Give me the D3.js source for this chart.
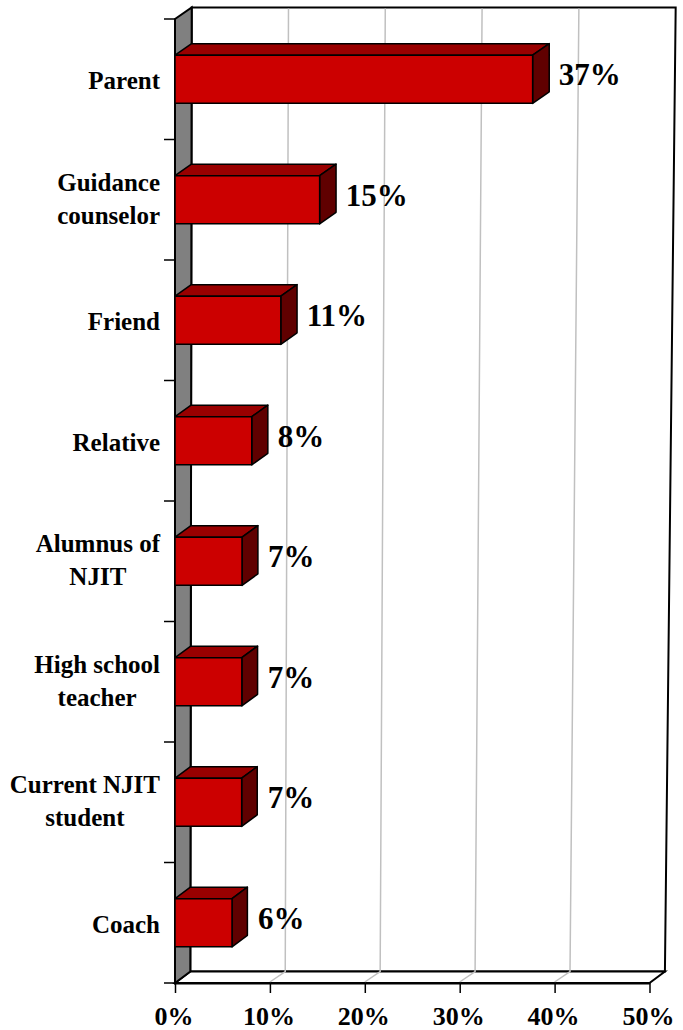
<!DOCTYPE html>
<html>
<head>
<meta charset="utf-8">
<script src="https://cdn.jsdelivr.net/npm/d3@7"></script>
<style>
  body { margin: 0; background: #fff; }
  svg { display: block; font-family: "Liberation Serif", "Times New Roman", serif; font-weight: bold; }
</style>
</head>
<body>
<div id="chart"></div>
<script>
// data ------------------------------------------------------------
const categories = ['Parent', 'Guidance counselor', 'Friend', 'Relative',
  'Alumnus of NJIT', 'High school teacher', 'Current NJIT student', 'Coach'];
const labelLines = [['Parent'], ['Guidance', 'counselor'], ['Friend'], ['Relative'],
  ['Alumnus of', 'NJIT'], ['High school', 'teacher'], ['Current NJIT', 'student'], ['Coach']];
const values = [37, 15, 11, 8, 7, 7, 7, 6];
const xTicks = [0, 10, 20, 30, 40, 50];

// layout ----------------------------------------------------------
const width = 683, height = 1030;
const plotLeft = 175, plotTop = 19, plotBottom = 983;
const depthY = -11.5;

const svg = d3.select('#chart').append('svg')
  .attr('width', width).attr('height', height);

const x = d3.scaleLinear().domain([0, 50]).range([0, 474.5]);
const y = d3.scaleBand().domain(categories).range([plotTop, plotBottom])
  .paddingInner(0.6).paddingOuter(0.3);
// slight perspective: things higher up are a bit wider
const persp = d3.scaleLinear().domain([plotBottom, 7]).range([1, 1.02]);
const depthX = d3.scaleLinear().domain([plotBottom, 7]).range([15.3, 16.7]);

const frontX = (v, yy) => plotLeft + x(v) * persp(yy);
const backX = (v, yy) => plotLeft + depthX(yy) + x(v) * persp(yy);
const backTop = plotTop + depthY, backBottom = plotBottom + depthY;

const line = d3.line();

// back wall
svg.append('path')
  .attr('d', line([[backX(0, backTop), backTop], [backX(50, backTop), backTop],
    [backX(50, backBottom), backBottom], [backX(0, backBottom), backBottom]]) + 'Z')
  .attr('fill', '#fff').attr('stroke', '#000').attr('stroke-width', 2);

// floor
svg.append('path')
  .attr('d', line([[frontX(0, plotBottom), plotBottom], [frontX(50, plotBottom), plotBottom],
    [backX(50, backBottom), backBottom], [backX(0, backBottom), backBottom]]) + 'Z')
  .attr('fill', '#fff').attr('stroke', '#000').attr('stroke-width', 2);

// gridlines on wall and floor
const grid = svg.append('g').attr('class', 'gridlines')
  .attr('stroke', '#c0c0c0').attr('stroke-width', 1.5).attr('fill', 'none');
grid.selectAll('path')
  .data(xTicks.filter(d => d > 0 && d < 50))
  .join('path')
  .attr('d', d => line([[backX(d, backTop + 1), backTop + 1], [backX(d, backBottom), backBottom],
    [frontX(d, plotBottom), plotBottom - 1]]));

// left wall
svg.append('path')
  .attr('d', line([[plotLeft, plotTop], [backX(0, backTop), backTop],
    [backX(0, backBottom), backBottom], [plotLeft, plotBottom]]) + 'Z')
  .attr('fill', '#808080').attr('stroke', '#000').attr('stroke-width', 2);

// bars
const bars = svg.append('g').attr('class', 'bars')
  .attr('stroke', '#000').attr('stroke-width', 1.5).attr('stroke-linejoin', 'round');

categories.forEach((c, i) => {
  const yt = y(c), yb = yt + y.bandwidth(), ym = yt + y.bandwidth() / 2;
  const xr = plotLeft + x(values[i]) * persp(ym);
  const dx = depthX(ym), dy = depthY;
  const g = bars.append('g');
  g.append('path') // top face
    .attr('d', line([[plotLeft, yt], [xr, yt], [xr + dx, yt + dy], [plotLeft + dx, yt + dy]]) + 'Z')
    .attr('fill', '#990000');
  g.append('path') // side face
    .attr('d', line([[xr, yt], [xr + dx, yt + dy], [xr + dx, yb + dy], [xr, yb]]) + 'Z')
    .attr('fill', '#600000');
  g.append('rect') // front face
    .attr('x', plotLeft).attr('y', yt).attr('width', xr - plotLeft).attr('height', yb - yt)
    .attr('fill', '#cc0000');
  svg.append('text')
    .attr('x', xr + 26).attr('y', ym + 6)
    .attr('font-size', 31)
    .text(values[i] + '%');
});

// category axis: ticks sit on band boundaries
const boundaries = categories.map(c => y(c) - y.step() * y.paddingInner() / 2);
boundaries[0] = plotTop;
boundaries.push(plotBottom);
svg.append('g').attr('stroke', '#000').attr('stroke-width', 1.5)
  .selectAll('line').data(boundaries).join('line')
  .attr('x1', plotLeft - 11).attr('x2', plotLeft).attr('y1', d => d).attr('y2', d => d);

const catLabels = svg.append('g').attr('font-size', 25).attr('text-anchor', 'middle');
categories.forEach((c, i) => {
  const lines = labelLines[i];
  const lh = 32.6;
  const ym = y(c) + y.bandwidth() / 2;
  const base = ym + 9.75 - (lines.length - 1) * 2.25;
  const t = catLabels.append('text');
  lines.forEach((s, j) => {
    t.append('tspan').attr('y', base - (lines.length - 1) * lh / 2 + j * lh).text(s);
  });
  let maxW = 0;
  t.selectAll('tspan').each(function () { maxW = Math.max(maxW, this.getComputedTextLength()); });
  t.selectAll('tspan').attr('x', 160 - maxW / 2);
});

// value axis
const xAxis = d3.axisBottom(x).tickValues(xTicks).tickSize(10).tickSizeOuter(0)
  .tickFormat(d => d + '%');
const gx = svg.append('g')
  .attr('transform', `translate(${plotLeft}, ${plotBottom})`)
  .call(xAxis);
gx.select('.domain').attr('stroke-width', 2);
gx.selectAll('.tick line').attr('stroke-width', 1.5);
gx.selectAll('.tick text')
  .attr('y', 42).attr('dy', 0).attr('x', -1.5)
  .attr('font-size', 26)
  .attr('font-family', '"Liberation Serif", serif')
  .attr('font-weight', 'bold')
  .attr('fill', '#000');
</script>
</body>
</html>
